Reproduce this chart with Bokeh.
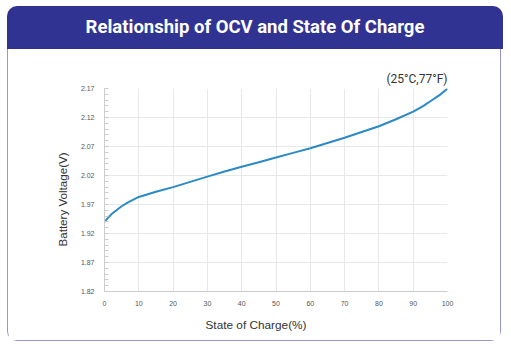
from bokeh.plotting import figure
from bokeh.models import FixedTicker, Range1d, Div, Title
from bokeh.layouts import column
from bokeh.embed import file_html
from bokeh.resources import INLINE

soc = [0, 1, 2, 3, 5, 7, 10, 15, 20, 25, 30, 35, 40, 45, 50, 55, 60, 65, 70, 75, 80, 85, 90, 93, 95, 97, 98, 100]
voltage = [1.940, 1.947, 1.953, 1.958, 1.967, 1.974, 1.983, 1.992, 2.000, 2.009, 2.018, 2.027, 2.035, 2.043,
           2.051, 2.059, 2.067, 2.076, 2.085, 2.095, 2.105, 2.117, 2.130, 2.140, 2.148, 2.156, 2.160, 2.170]
x_ticks = [0, 10, 20, 30, 40, 50, 60, 70, 80, 90, 100]
y_ticks = [1.82, 1.87, 1.92, 1.97, 2.02, 2.07, 2.12, 2.17]
title_text = "Relationship of OCV and State Of Charge"
note_text = "(25°C,77°F)"
x_label = "State of Charge(%)"
y_label = "Battery Voltage(V)"

header = Div(text=title_text, width=496, height=43, margin=(6, 0, 0, 7),
             styles={"background-color": "#303392", "color": "white", "font-family": "Roboto",
                     "font-weight": "bold", "font-size": "18.5px", "text-align": "center",
                     "line-height": "43px", "border-radius": "10px 10px 0 0"})

p = figure(width=494, height=292, output_backend="svg", toolbar_location=None,
           x_range=Range1d(0, 100), y_range=Range1d(1.82, 2.17),
           min_border_left=96, min_border_right=55, min_border_top=39, min_border_bottom=50,
           margin=(0, 0, 0, 7))
p.styles = {"border": "1px solid #9595d2", "border-top": "none", "border-radius": "0 0 10px 10px"}
p.background_fill_color = "white"
p.border_fill_color = "white"
p.outline_line_color = None

p.add_layout(Title(text=note_text, align="right", text_color="#333333", text_font="Roboto",
                   text_font_size="12px", text_font_style="normal", standoff=6), "above")
p.add_layout(Title(text=x_label, align="left", offset=101, text_color="#333333",
                   text_font="Liberation Sans", text_font_size="11.8px", text_font_style="normal",
                   standoff=14), "below")
p.add_layout(Title(text=y_label, align="left", offset=45, text_color="#333333",
                   text_font="Liberation Sans", text_font_size="11.6px", text_font_style="normal",
                   standoff=17), "left")

p.line(soc, voltage, line_color="#2b8ac6", line_width=2)

p.xaxis.ticker = FixedTicker(ticks=x_ticks)
p.yaxis.ticker = FixedTicker(ticks=y_ticks, minor_ticks=[round(1.82 + 0.01 * i, 2) for i in range(36)])
for ax in (p.xaxis[0], p.yaxis[0]):
    ax.axis_line_color = "#cccccc"
    ax.major_tick_line_color = None
    ax.major_label_text_font = "Liberation Sans"
    ax.major_label_text_font_size = "7px"
    ax.major_label_text_color = "#555555"
p.xaxis.minor_tick_line_color = None
p.yaxis.minor_tick_line_color = "#cccccc"
p.yaxis.minor_tick_in = 4
p.yaxis.minor_tick_out = 0
p.yaxis.major_label_standoff = 4
p.xaxis.major_label_standoff = 3
p.grid.grid_line_color = "#e8e8e8"
p.grid.grid_line_width = 1

layout = column(header, p, spacing=0)
open("out.html", "w").write(file_html(layout, INLINE))
